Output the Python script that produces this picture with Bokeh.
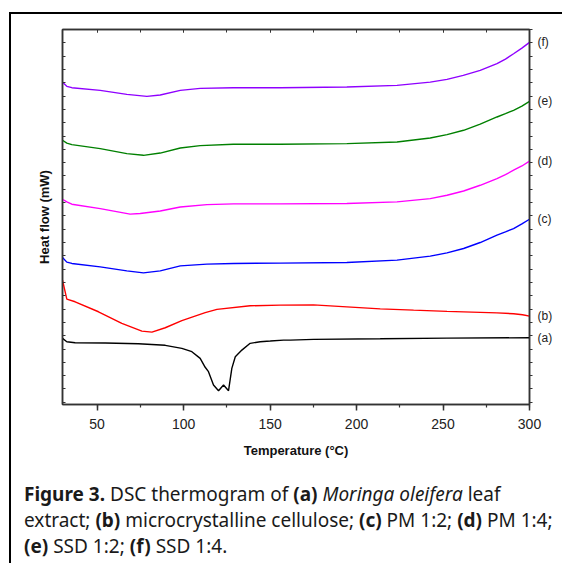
from bokeh.plotting import figure
from bokeh.models import (Range1d, LinearAxis, SingleIntervalTicker, FixedTicker, Div,
                          CustomJSTickFormatter)
from bokeh.layouts import column, row
from bokeh.embed import file_html
from bokeh.resources import INLINE

# ---- data (temperature in degC, heat flow in arbitrary offset mW units) ----
a_T = [30, 32.5, 37.3, 54.7, 73.9, 89.4, 99.0, 104.8, 109.6, 112.5, 114.4, 117.3, 120.2,
       123.1, 126.0, 127.9, 129.9, 133.7, 138.5, 144.3, 150.1, 157.8, 161.7, 175.1, 213.7, 252.3, 300]
a_HF = [4.80, 4.55, 4.47, 4.45, 4.40, 4.28, 4.05, 3.80, 3.30, 2.63, 2.30, 1.30, 0.87,
        1.30, 0.87, 2.55, 3.42, 3.92, 4.43, 4.55, 4.60, 4.67, 4.67, 4.73, 4.77, 4.82, 4.85]

b_T = [30, 32.5, 37.3, 50.8, 64.3, 75.9, 81.7, 89.4, 99.0, 112.5, 119.3, 138.5, 155.9,
       175.1, 194.4, 213.7, 233.0, 252.3, 281.2, 290.8, 296, 300]
b_HF = [9.17, 7.75, 7.55, 6.80, 5.93, 5.35, 5.27, 5.60, 6.14, 6.74, 6.98, 7.25, 7.30,
        7.32, 7.17, 7.02, 6.92, 6.83, 6.72, 6.65, 6.58, 6.47]

c_T = [30, 32.5, 35.4, 51.8, 67.2, 76.8, 86.5, 98.1, 113.5, 128.9, 155.9, 194.4, 223.4,
       242.6, 252.3, 261.9, 271.5, 281.2, 286.1, 290.8, 295.6, 300]
c_HF = [10.88, 10.53, 10.43, 10.17, 9.87, 9.72, 9.87, 10.25, 10.38, 10.43, 10.45, 10.50, 10.68,
        10.98, 11.22, 11.55, 12.00, 12.55, 12.80, 13.05, 13.40, 13.75]

d_T = [30, 32.5, 35.4, 51.8, 69.1, 74.9, 86.5, 98.1, 113.5, 128.9, 155.9, 194.4, 223.4,
       242.6, 252.3, 261.9, 271.5, 281.2, 286.1, 290.8, 295.6, 300]
d_HF = [15.25, 15.05, 14.88, 14.55, 14.13, 14.18, 14.37, 14.67, 14.85, 14.90, 14.90, 14.93, 15.05,
        15.30, 15.55, 15.87, 16.30, 16.80, 17.10, 17.43, 17.75, 18.12]

e_T = [30, 32.5, 35.4, 51.8, 67.2, 76.8, 86.5, 98.1, 109.6, 128.7, 155.9, 194.4, 223.4,
       242.6, 252.3, 261.9, 271.5, 281.2, 286.1, 290.8, 295.6, 300]
e_HF = [19.68, 19.47, 19.35, 19.05, 18.68, 18.55, 18.72, 19.10, 19.28, 19.38, 19.38, 19.43, 19.55,
        19.85, 20.10, 20.43, 20.90, 21.43, 21.68, 21.93, 22.25, 22.60]

f_T = [30, 32.5, 35.4, 51.8, 67.2, 78.8, 86.5, 98.1, 109.6, 128.7, 155.9, 194.4, 223.4,
       242.6, 252.3, 261.7, 271.5, 281.2, 286.1, 290.8, 295.6, 300]
f_HF = [24.03, 23.73, 23.63, 23.43, 23.13, 22.98, 23.08, 23.43, 23.58, 23.63, 23.63, 23.68, 23.80,
        24.05, 24.25, 24.55, 24.93, 25.43, 25.78, 26.18, 26.60, 27.03]

series_names = ["(a)", "(b)", "(c)", "(d)", "(e)", "(f)"]
series_T = [a_T, b_T, c_T, d_T, e_T, f_T]
series_HF = [a_HF, b_HF, c_HF, d_HF, e_HF, f_HF]
series_colors = ["#000000", "#ff0000", "#0000ff", "#ff00ff", "#008000", "#8f00ff"]

x_major_step = 50
y_minor_ticks = list(range(0, 29))

AX = "#333333"
FONT = "Liberation Sans"

p = figure(frame_width=467, frame_height=375,
           x_range=Range1d(30, 300), y_range=Range1d(-0.165, 28.0),
           output_backend="svg", toolbar_location=None,
           min_border_left=51, min_border_right=33, min_border_top=15, min_border_bottom=73,
           x_axis_label="Temperature (\u00b0C)", y_axis_label="Heat flow (mW)")
p.background_fill_color = "white"
p.border_fill_color = "white"
p.outline_line_color = AX
p.outline_line_width = 1.5
p.grid.visible = False

xt = SingleIntervalTicker(interval=x_major_step, num_minor_ticks=2)
yt = SingleIntervalTicker(interval=1, num_minor_ticks=0)
blank = CustomJSTickFormatter(code="return ''")

# bottom axis
xa = p.xaxis[0]
xa.ticker = xt
xa.axis_line_color = AX
xa.axis_line_width = 1.5
xa.major_tick_line_color = AX
xa.minor_tick_line_color = AX
xa.major_tick_line_width = 1.5
xa.minor_tick_line_width = 1.2
xa.major_tick_out = 6
xa.major_tick_in = 0
xa.minor_tick_out = 3
xa.minor_tick_in = 0
xa.major_label_text_font = FONT
xa.major_label_text_font_size = "14px"
xa.major_label_text_color = "#222222"
xa.major_label_standoff = 8
xa.axis_label_text_font = FONT
xa.axis_label_text_font_style = "bold"
xa.axis_label_text_font_size = "13px"
xa.axis_label_text_color = "#111111"
xa.axis_label_standoff = 11

# left axis
ya = p.yaxis[0]
ya.ticker = yt
ya.formatter = blank
ya.axis_line_color = AX
ya.axis_line_width = 1.5
ya.major_tick_line_color = AX
ya.major_tick_in = 3
ya.major_tick_out = 0
ya.minor_tick_line_color = None
ya.major_label_text_font_size = "1px"
ya.major_label_standoff = 0
ya.axis_label_text_font = FONT
ya.axis_label_text_font_style = "bold"
ya.axis_label_text_font_size = "13px"
ya.axis_label_text_color = "#111111"
ya.axis_label_standoff = 11

# top axis
ta = LinearAxis(ticker=xt, formatter=blank)
ta.axis_line_color = AX
ta.axis_line_width = 1.5
ta.major_tick_line_color = AX
ta.minor_tick_line_color = AX
ta.major_tick_in = 3
ta.major_tick_out = 0
ta.minor_tick_in = 3
ta.minor_tick_out = 0
ta.major_label_text_font_size = "1px"
ta.major_label_standoff = 0
p.add_layout(ta, "above")

# right axis: small outward ticks + curve labels at the end of each trace
end_values = [hf[-1] for hf in series_HF]
rt = FixedTicker(ticks=end_values, minor_ticks=y_minor_ticks)
ra = LinearAxis(ticker=rt)
ra.major_label_overrides = {v: n for v, n in zip(end_values, series_names)}
ra.axis_line_color = AX
ra.axis_line_width = 1.5
ra.major_tick_line_color = None
ra.major_tick_in = 0
ra.major_tick_out = 0
ra.minor_tick_line_color = AX
ra.minor_tick_in = 0
ra.minor_tick_out = 3
ra.major_label_text_font = FONT
ra.major_label_text_font_size = "12px"
ra.major_label_text_color = "#222222"
ra.major_label_standoff = 5
p.add_layout(ra, "right")

for T, HF, col in zip(series_T, series_HF, series_colors):
    p.line(T, HF, line_color=col, line_width=1.4)

p.margin = (0, 0, 0, 0)

caption = Div(
    text=("<div style=\"padding-left:13px; padding-top:4px;\">"
          "<b>Figure 3.</b> DSC thermogram of <b>(a)</b> <i>Moringa oleifera</i> leaf<br>"
          "extract; <b>(b)</b> microcrystalline cellulose; <b>(c)</b> PM 1:2; <b>(d)</b> PM 1:4;<br>"
          "<b>(e)</b> SSD 1:2; <b>(f)</b> SSD 1:4.</div>"),
    width=551, height=86, margin=(0, 0, 0, 0),
    styles={"font-family": "'Noto Sans'", "font-size": "19px", "line-height": "26px",
            "color": "#1a1a1a", "white-space": "nowrap", "background-color": "white",
            "overflow": "hidden"})

top_rule = Div(text="", width=553, height=2, margin=(0, 0, 0, 0),
               styles={"background-color": "black"})
left_rule = Div(text="", width=2, height=549, margin=(0, 0, 0, 0),
                styles={"background-color": "black"})

content = column(p, caption, margin=(0, 0, 0, 0), spacing=0)
layout = column(top_rule, row(left_rule, content, margin=(0, 0, 0, 0), spacing=0),
                margin=(12, 0, 0, 9), spacing=0, styles={"background-color": "white"})

open("out.html", "w").write(file_html(layout, INLINE))
